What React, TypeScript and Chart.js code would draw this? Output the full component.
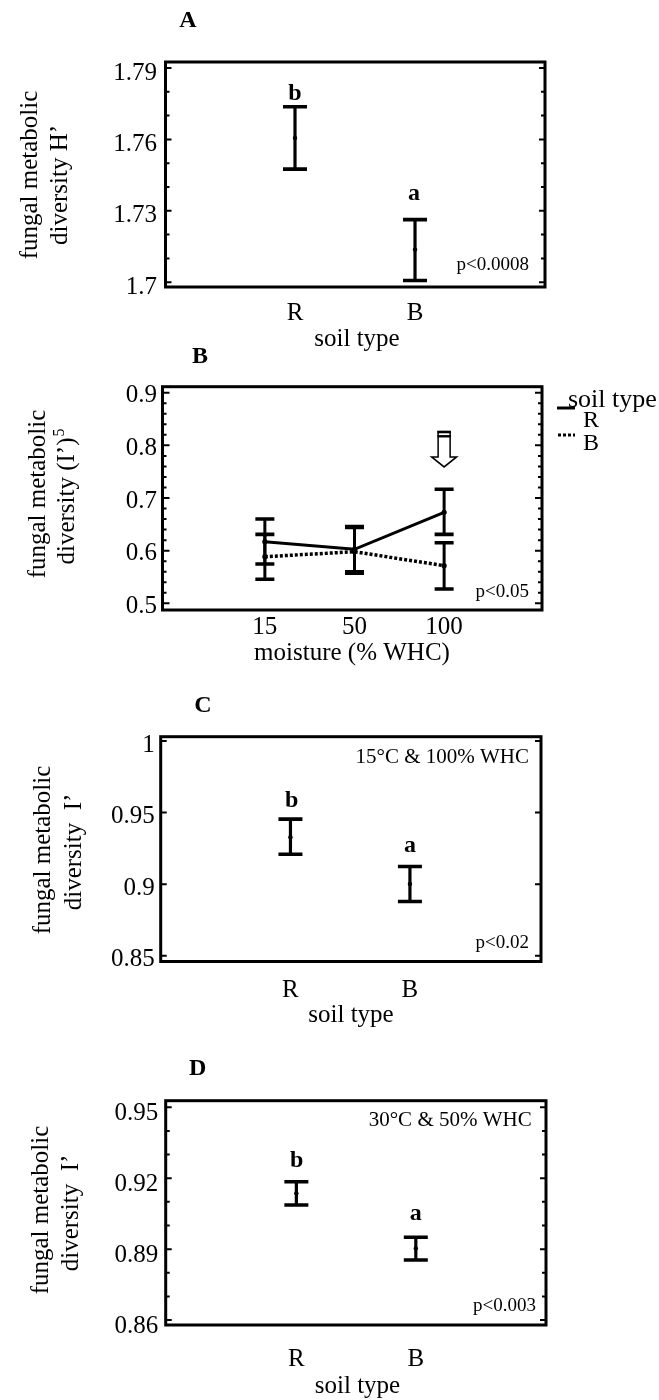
import React, { useEffect, useRef } from "react";
import { Chart, registerables } from "chart.js";

Chart.register(...registerables);

const W = 659;
const H = 1400;
const SERIF = '"Liberation Serif", "Times New Roman", Times, serif';

// ---------- Panel A : H' by soil type ----------
const soilTypes = ["R", "B"];
const aMean = [1.7606, 1.7137];
const aLow = [1.7475, 1.7007];
const aHigh = [1.7737, 1.7263];
const aTicks = [1.7, 1.73, 1.76, 1.79];
const aTickLabels = ["1.7", "1.73", "1.76", "1.79"];
const aMinor = [1.71, 1.72, 1.74, 1.75, 1.77, 1.78];

// ---------- Panel B : (I')^5 by moisture ----------
const moistureLevels = ["15", "50", "100"];
const bRMean = [0.617, 0.6026, 0.6728];
const bRLow = [0.5746, 0.56, 0.631];
const bRHigh = [0.66, 0.646, 0.7165];
const bBMean = [0.5885, 0.598, 0.5714];
const bBLow = [0.5456, 0.557, 0.5272];
const bBHigh = [0.631, 0.644, 0.6151];
const bTicks = [0.5, 0.6, 0.7, 0.8, 0.9];
const bTickLabels = ["0.5", "0.6", "0.7", "0.8", "0.9"];
const bMinor = [0.52, 0.54, 0.56, 0.58, 0.62, 0.64, 0.66, 0.68, 0.72, 0.74, 0.76, 0.78, 0.82, 0.84, 0.86, 0.88];
const bArrowFrom = 0.826;
const bArrowTo = 0.759;

// ---------- Panel C : I' at 15°C & 100% WHC ----------
const cMean = [0.9328, 0.9002];
const cLow = [0.9209, 0.8879];
const cHigh = [0.9454, 0.9123];
const cTicks = [0.85, 0.9, 0.95, 1];
const cTickLabels = ["0.85", "0.9", "0.95", "1"];
const cMinor: number[] = [];

// ---------- Panel D : I' at 30°C & 50% WHC ----------
const dMean = [0.9136, 0.8903];
const dLow = [0.9087, 0.8854];
const dHigh = [0.9185, 0.895];
const dTicks = [0.86, 0.89, 0.92, 0.95];
const dTickLabels = ["0.86", "0.89", "0.92", "0.95"];
const dMinor = [0.87, 0.88, 0.9, 0.91, 0.93, 0.94];

function drawText(ctx, t, x, y, size, bold = false, align = "center") {
  ctx.save();
  ctx.font = `${bold ? "bold " : ""}${size}px ${SERIF}`;
  ctx.fillStyle = "#000";
  ctx.textAlign = align;
  ctx.textBaseline = "alphabetic";
  ctx.fillText(t, x, y);
  ctx.restore();
}

function drawVTitle(ctx, line, x, cy, size, sup?: string) {
  ctx.save();
  ctx.translate(x, cy);
  ctx.rotate(-Math.PI / 2);
  ctx.fillStyle = "#000";
  ctx.textBaseline = "alphabetic";
  ctx.font = `${size}px ${SERIF}`;
  if (!sup) {
    ctx.textAlign = "center";
    ctx.fillText(line, 0, 0);
  } else {
    const w = ctx.measureText(line).width;
    ctx.font = `${Math.round(size * 0.62)}px ${SERIF}`;
    const ws = ctx.measureText(sup).width;
    const start = -(w + ws) / 2;
    ctx.textAlign = "left";
    ctx.font = `${size}px ${SERIF}`;
    ctx.fillText(line, start, 0);
    ctx.font = `${Math.round(size * 0.62)}px ${SERIF}`;
    ctx.fillText(sup, start + w + 1, -size * 0.42);
  }
  ctx.restore();
}

function makePlugin(spec) {
  return {
    id: "panelDecor",
    beforeDatasetsDraw(chart) {
      const ctx = chart.ctx;
      const xs = chart.scales.x;
      const ys = chart.scales.y;
      ctx.save();
      ctx.strokeStyle = "#000";
      spec.series.forEach((s) => {
        s.mean.forEach((_m, i) => {
          const px = xs.getPixelForValue(i + 1);
          const pt = ys.getPixelForValue(s.high[i]);
          const pb = ys.getPixelForValue(s.low[i]);
          ctx.lineWidth = spec.barWidth;
          ctx.beginPath();
          ctx.moveTo(px, pt);
          ctx.lineTo(px, pb);
          ctx.stroke();
          ctx.lineWidth = spec.capThick;
          ctx.beginPath();
          ctx.moveTo(px - spec.cap / 2, pt);
          ctx.lineTo(px + spec.cap / 2, pt);
          ctx.moveTo(px - spec.cap / 2, pb);
          ctx.lineTo(px + spec.cap / 2, pb);
          ctx.stroke();
        });
      });
      ctx.restore();
    },
    afterDraw(chart) {
      const ctx = chart.ctx;
      const ys = chart.scales.y;
      const { left, right, top, bottom } = chart.chartArea;
      ctx.save();
      ctx.strokeStyle = "#000";
      ctx.lineWidth = 3;
      ctx.strokeRect(left, top, right - left, bottom - top);
      ctx.lineWidth = 2;
      ctx.beginPath();
      spec.yTicks.forEach((v) => {
        const py = ys.getPixelForValue(v);
        ctx.moveTo(left, py);
        ctx.lineTo(left + spec.majorLen, py);
        ctx.moveTo(right, py);
        ctx.lineTo(right - spec.majorLen, py);
      });
      spec.yMinor.forEach((v) => {
        const py = ys.getPixelForValue(v);
        ctx.moveTo(left, py);
        ctx.lineTo(left + spec.minorLen, py);
        ctx.moveTo(right, py);
        ctx.lineTo(right - spec.minorLen, py);
      });
      ctx.stroke();
      ctx.restore();

      spec.texts.forEach((t) => drawText(ctx, t.t, t.x, t.y, t.size, t.bold, t.align || "center"));
      spec.titleLines.forEach((l) => drawVTitle(ctx, l.t, l.x, l.cy, 25, l.sup));
      if (spec.extra) spec.extra(chart, ctx);
    },
  };
}

function buildConfig(spec) {
  const a = spec.area;
  const datasets = spec.series.map((s) => ({
    data: s.mean.map((m, i) => ({ x: i + 1, y: m })),
    showLine: !!s.showLine,
    borderColor: "#000",
    backgroundColor: "#000",
    borderWidth: s.width || 3,
    borderDash: s.dash || [],
    pointRadius: s.pointRadius || 2.2,
    pointBackgroundColor: "#000",
    pointBorderWidth: 0,
    tension: 0,
    fill: false,
  }));
  const font = { family: SERIF, size: 25, weight: "normal" };
  return {
    type: "scatter",
    data: { datasets },
    options: {
      responsive: false,
      maintainAspectRatio: false,
      animation: false,
      devicePixelRatio: 1,
      events: [],
      layout: { padding: { left: 0, top: a.t, right: W - a.r, bottom: 0 } },
      plugins: {
        legend: { display: false },
        tooltip: { enabled: false },
        title: { display: false },
      },
      scales: {
        x: {
          type: "linear",
          position: "bottom",
          min: spec.xMin,
          max: spec.xMax,
          afterBuildTicks: (ax) => {
            ax.ticks = spec.xCats.map((_c, i) => ({ value: i + 1 }));
          },
          afterFit: (ax) => {
            ax.height = H - a.b;
          },
          ticks: {
            callback: (_v, i) => spec.xCats[i],
            font,
            color: "#000",
            padding: spec.xPad,
            autoSkip: false,
            maxRotation: 0,
            minRotation: 0,
          },
          grid: { display: false, drawTicks: false },
          border: { display: false },
        },
        y: {
          type: "linear",
          position: "left",
          min: spec.yMin,
          max: spec.yMax,
          afterBuildTicks: (ax) => {
            ax.ticks = spec.yTicks.map((v) => ({ value: v }));
          },
          afterFit: (ax) => {
            ax.width = a.l;
          },
          ticks: {
            callback: (_v, i) => spec.yLabels[i],
            font,
            color: "#000",
            padding: spec.yPad,
            labelOffset: spec.yLabelOffset,
            autoSkip: false,
          },
          grid: { display: false, drawTicks: false },
          border: { display: false },
        },
      },
    },
    plugins: [makePlugin(spec)],
  };
}

const specA = {
  area: { l: 165.5, r: 545, t: 62, b: 287 },
  yMin: 1.698, yMax: 1.7925, yTicks: aTicks, yLabels: aTickLabels, yMinor: aMinor,
  yLabelOffset: 5, yPad: 8.5,
  xMin: -0.079, xMax: 3.083, xCats: soilTypes, xPad: 11,
  series: [{ mean: aMean, low: aLow, high: aHigh }],
  cap: 24, barWidth: 3.2, capThick: 3.6, majorLen: 6, minorLen: 4,
  texts: [
    { t: "A", x: 188, y: 27, size: 24, bold: true },
    { t: "b", x: 295, y: 100, size: 24, bold: true },
    { t: "a", x: 414, y: 200, size: 24, bold: true },
    { t: "p<0.0008", x: 529, y: 270, size: 19, align: "right" },
    { t: "soil type", x: 357, y: 346, size: 25 },
  ],
  titleLines: [
    { t: "fungal metabolic", x: 37, cy: 175 },
    { t: "diversity H\u2019", x: 67, cy: 185 },
  ],
};

const specB = {
  area: { l: 162.5, r: 542, t: 386.7, b: 610 },
  yMin: 0.4873, yMax: 0.9114, yTicks: bTicks, yLabels: bTickLabels, yMinor: bMinor,
  yLabelOffset: 3, yPad: 5.5,
  xMin: -0.142, xMax: 4.092, xCats: moistureLevels, xPad: 2.5,
  series: [
    { mean: bRMean, low: bRLow, high: bRHigh, showLine: true, width: 3, pointRadius: 2.6 },
    { mean: bBMean, low: bBLow, high: bBHigh, showLine: true, width: 3.5, dash: [3, 2], pointRadius: 2.6 },
  ],
  cap: 19, barWidth: 3, capThick: 3.6, majorLen: 7, minorLen: 4,
  texts: [
    { t: "B", x: 200, y: 363, size: 24, bold: true },
    { t: "p<0.05", x: 529, y: 597, size: 19, align: "right" },
    { t: "moisture (% WHC)", x: 352, y: 660, size: 25 },
    { t: "soil type", x: 568, y: 406.7, size: 26, align: "left" },
    { t: "R", x: 583, y: 427, size: 24, align: "left" },
    { t: "B", x: 583, y: 450, size: 24, align: "left" },
  ],
  titleLines: [
    { t: "fungal metabolic", x: 45, cy: 494 },
    { t: "diversity (I\u2019)", x: 74, cy: 497, sup: "5" },
  ],
  extra: (chart, ctx) => {
    const xs = chart.scales.x;
    const ys = chart.scales.y;
    ctx.save();
    ctx.strokeStyle = "#000";
    // legend swatches
    ctx.lineWidth = 3;
    ctx.beginPath();
    ctx.moveTo(557, 408);
    ctx.lineTo(575, 408);
    ctx.stroke();
    ctx.setLineDash([3, 2]);
    ctx.beginPath();
    ctx.moveTo(558, 435);
    ctx.lineTo(575, 435);
    ctx.stroke();
    ctx.setLineDash([]);
    // hollow arrow at 100 % WHC
    const px = xs.getPixelForValue(3);
    const topY = ys.getPixelForValue(bArrowFrom);
    const tipY = ys.getPixelForValue(bArrowTo);
    const headY = tipY - 10;
    ctx.lineWidth = 1.5;
    ctx.fillStyle = "#fff";
    ctx.beginPath();
    ctx.moveTo(px - 6, topY);
    ctx.lineTo(px - 6, headY);
    ctx.lineTo(px - 12.5, headY);
    ctx.lineTo(px, tipY);
    ctx.lineTo(px + 12.5, headY);
    ctx.lineTo(px + 6, headY);
    ctx.lineTo(px + 6, topY);
    ctx.closePath();
    ctx.fill();
    ctx.stroke();
    ctx.fillStyle = "#000";
    ctx.fillRect(px - 6.7, topY - 1, 13.4, 2.6);
    ctx.fillRect(px - 6.7, topY + 3.4, 13.4, 2.4);
    ctx.restore();
  },
};

const specC = {
  area: { l: 160.7, r: 541, t: 736.7, b: 961.5 },
  yMin: 0.846, yMax: 1.003, yTicks: cTicks, yLabels: cTickLabels, yMinor: cMinor,
  yLabelOffset: 4, yPad: 6,
  xMin: -0.086, xMax: 3.097, xCats: soilTypes, xPad: 14,
  series: [{ mean: cMean, low: cLow, high: cHigh }],
  cap: 24, barWidth: 3.2, capThick: 3.6, majorLen: 6, minorLen: 4,
  texts: [
    { t: "C", x: 203, y: 711.7, size: 24, bold: true },
    { t: "b", x: 291.7, y: 806.7, size: 24, bold: true },
    { t: "a", x: 410, y: 851.7, size: 24, bold: true },
    { t: "15\u00B0C & 100% WHC", x: 529, y: 762.7, size: 21, align: "right" },
    { t: "p<0.02", x: 529, y: 948, size: 19, align: "right" },
    { t: "soil type", x: 351, y: 1022, size: 25 },
  ],
  titleLines: [
    { t: "fungal metabolic", x: 50, cy: 850 },
    { t: "diversity  I\u2019", x: 81, cy: 852 },
  ],
};

const specD = {
  area: { l: 165.7, r: 546, t: 1100.7, b: 1325 },
  yMin: 0.8579, yMax: 0.9528, yTicks: dTicks, yLabels: dTickLabels, yMinor: dMinor,
  yLabelOffset: 6, yPad: 7.4,
  xMin: -0.094, xMax: 3.09, xCats: soilTypes, xPad: 19,
  series: [{ mean: dMean, low: dLow, high: dHigh }],
  cap: 24, barWidth: 3.2, capThick: 3.6, majorLen: 6, minorLen: 4,
  texts: [
    { t: "D", x: 197.7, y: 1075, size: 24, bold: true },
    { t: "b", x: 296.7, y: 1166.7, size: 24, bold: true },
    { t: "a", x: 415.7, y: 1220, size: 24, bold: true },
    { t: "30\u00B0C & 50% WHC", x: 531.7, y: 1126, size: 21, align: "right" },
    { t: "p<0.003", x: 536, y: 1311, size: 19, align: "right" },
    { t: "soil type", x: 357.5, y: 1393, size: 25 },
  ],
  titleLines: [
    { t: "fungal metabolic", x: 48, cy: 1210 },
    { t: "diversity  I\u2019", x: 78, cy: 1213 },
  ],
};

const specs = [specA, specB, specC, specD];

function Panel({ spec }) {
  const ref = useRef<HTMLCanvasElement | null>(null);
  useEffect(() => {
    if (!ref.current) return;
    const chart = new Chart(ref.current, buildConfig(spec) as any);
    return () => chart.destroy();
  }, [spec]);
  return (
    <canvas
      ref={ref}
      width={W}
      height={H}
      style={{ position: "absolute", left: 0, top: 0, width: W, height: H }}
    />
  );
}

export default function App() {
  return (
    <div
      style={{
        position: "absolute",
        left: 0,
        top: 0,
        width: W,
        height: H,
        background: "#fff",
        overflow: "hidden",
      }}
    >
      {specs.map((s, i) => (
        <Panel key={i} spec={s} />
      ))}
    </div>
  );
}
